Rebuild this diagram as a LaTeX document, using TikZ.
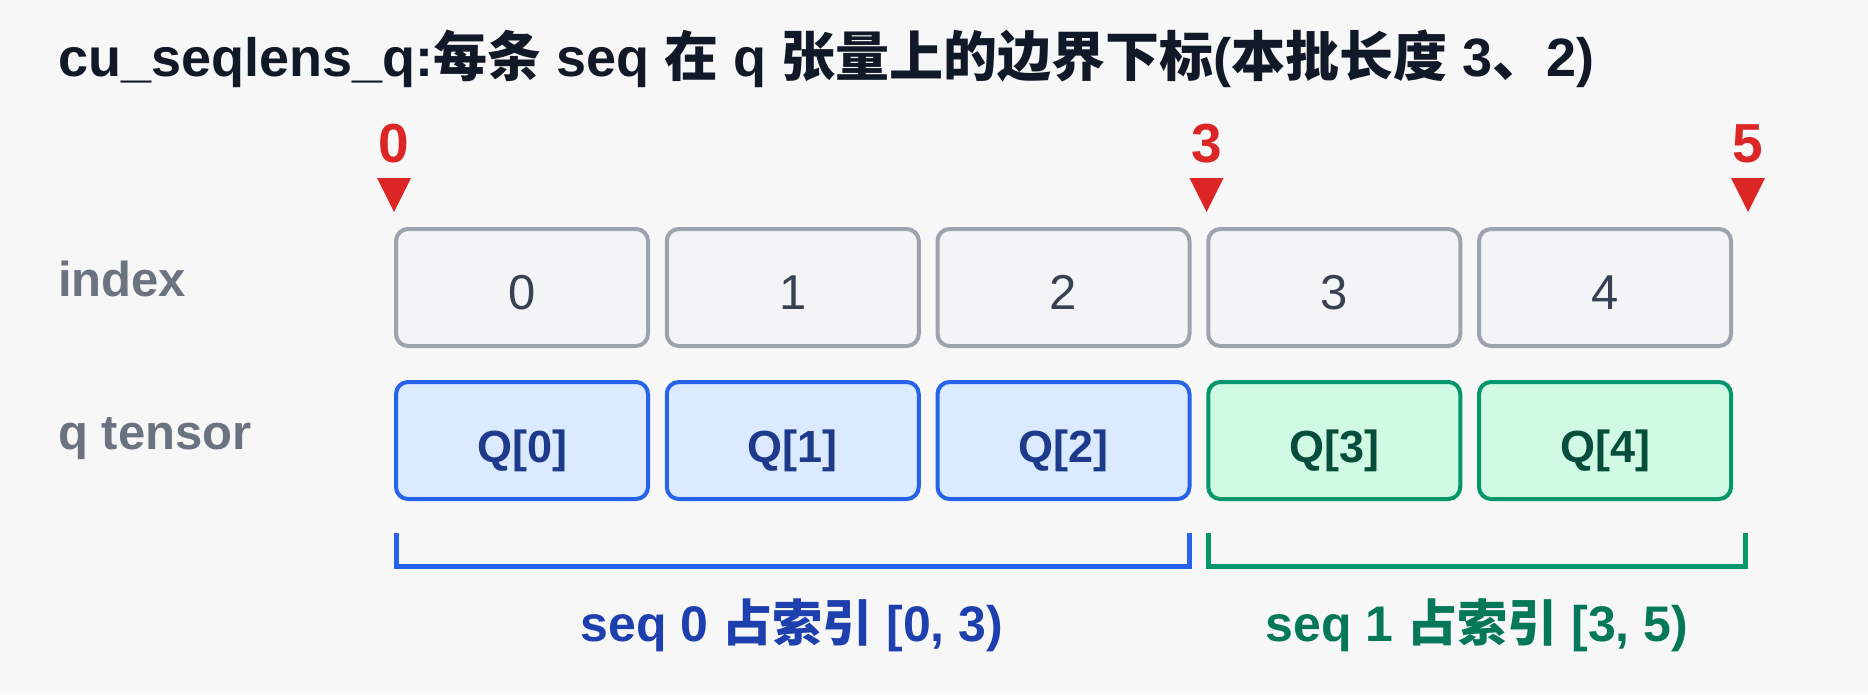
\documentclass[tikz,border=0pt]{standalone}
\usepackage{fontspec}
\setmainfont{Liberation Sans}
\newfontfamily\cjk{Noto Sans CJK SC}
\definecolor{bgc}{HTML}{F7F7F7}
\definecolor{titlec}{HTML}{111827}
\definecolor{redc}{HTML}{DC2626}
\definecolor{grayc}{HTML}{6B7280}
\definecolor{idxborder}{HTML}{9CA3AF}
\definecolor{idxfill}{HTML}{F3F4F6}
\definecolor{idxtext}{HTML}{374151}
\definecolor{blueborder}{HTML}{2563EB}
\definecolor{bluefill}{HTML}{DBEAFE}
\definecolor{bluetext}{HTML}{1E3A8A}
\definecolor{bluelabel}{HTML}{1E40AF}
\definecolor{greenborder}{HTML}{059669}
\definecolor{greenfill}{HTML}{D1FAE5}
\definecolor{greentext}{HTML}{064E3B}
\definecolor{greenlabel}{HTML}{047857}
\tikzset{
  cell/.style={line width=4pt, rounded corners=12pt, minimum width=252pt, minimum height=117pt,
    inner sep=0pt, text height=43pt, text depth=0pt, anchor=center},
  idxbox/.style={cell, draw=idxborder, fill=idxfill, text=idxtext, font=\fontsize{49}{55}\selectfont},
  qblue/.style={cell, draw=blueborder, fill=bluefill, text=bluetext, font=\bfseries\fontsize{45}{52}\selectfont},
  qgreen/.style={cell, draw=greenborder, fill=greenfill, text=greentext, font=\bfseries\fontsize{45}{52}\selectfont},
  marknum/.style={text=redc, font=\bfseries\fontsize{55}{60}\selectfont, anchor=base, inner sep=0pt},
  marktri/.style={fill=redc},
  rowlabel/.style={text=grayc, font=\bfseries\fontsize{49}{55}\selectfont, anchor=base west, inner sep=0pt},
  bracketline/.style={line width=5pt, line cap=butt, line join=miter},
  seqlabel/.style={font=\bfseries\fontsize{50}{56}\selectfont, anchor=base, inner sep=0pt},
}
\begin{document}
\begin{tikzpicture}[x=1pt,y=-1pt]
\fill[bgc] (0,0) rectangle (1868,694);
\useasboundingbox (0,0) rectangle (1868,694);

% title
\node[anchor=base west, inner sep=0pt, text=titlec, font=\bfseries\fontsize{54}{60}\selectfont] (title) at (58,76)
  {cu\_seqlens\_q:{\cjk 每条} seq {\cjk 在} q {\cjk 张量上的边界下标}({\cjk 本批长度} 3{\cjk 、}2)};

% row labels
\node[rowlabel] (lblindex) at (58,296) {index};
\node[rowlabel] (lblq) at (58,449) {q tensor};

% index cells
\node[idxbox] (i0) at (522,287.5) {0};
\node[idxbox] (i1) at (792.75,287.5) {1};
\node[idxbox] (i2) at (1063.5,287.5) {2};
\node[idxbox] (i3) at (1334.25,287.5) {3};
\node[idxbox] (i4) at (1605,287.5) {4};

% q cells
\node[qblue] (q0) at (522,440.5) {Q[0]};
\node[qblue] (q1) at (792.75,440.5) {Q[1]};
\node[qblue] (q2) at (1063.5,440.5) {Q[2]};
\node[qgreen] (q3) at (1334.25,440.5) {Q[3]};
\node[qgreen] (q4) at (1605,440.5) {Q[4]};

% boundary markers
\node[marknum] (m0) at (394,162) {0};
\node[marknum] (m3) at (1206.5,162) {3};
\node[marknum] (m5) at (1748,162) {5};
\fill[marktri] (377,178) -- (411,178) -- (394,212) -- cycle;
\fill[marktri] (1189.5,178) -- (1223.5,178) -- (1206.5,212) -- cycle;
\fill[marktri] (1731,178) -- (1765,178) -- (1748,212) -- cycle;

% brackets
\coordinate (b0a) at (396.5,533);
\coordinate (b0b) at (396.5,566);
\coordinate (b0c) at (1189,566);
\coordinate (b0d) at (1189,533);
\draw[bracketline, draw=blueborder] (b0a) -- (b0b) -- (b0c) -- (b0d);
\coordinate (b1a) at (1208.5,533);
\coordinate (b1b) at (1208.5,566);
\coordinate (b1c) at (1745.5,566);
\coordinate (b1d) at (1745.5,533);
\draw[bracketline, draw=greenborder] (b1a) -- (b1b) -- (b1c) -- (b1d);

% sequence labels
\node[seqlabel, text=bluelabel] (s0) at (792,641) {seq 0 {\cjk 占索引} [0, 3)};
\node[seqlabel, text=greenlabel] (s1) at (1477,641) {seq 1 {\cjk 占索引} [3, 5)};
\end{tikzpicture}
\end{document}
